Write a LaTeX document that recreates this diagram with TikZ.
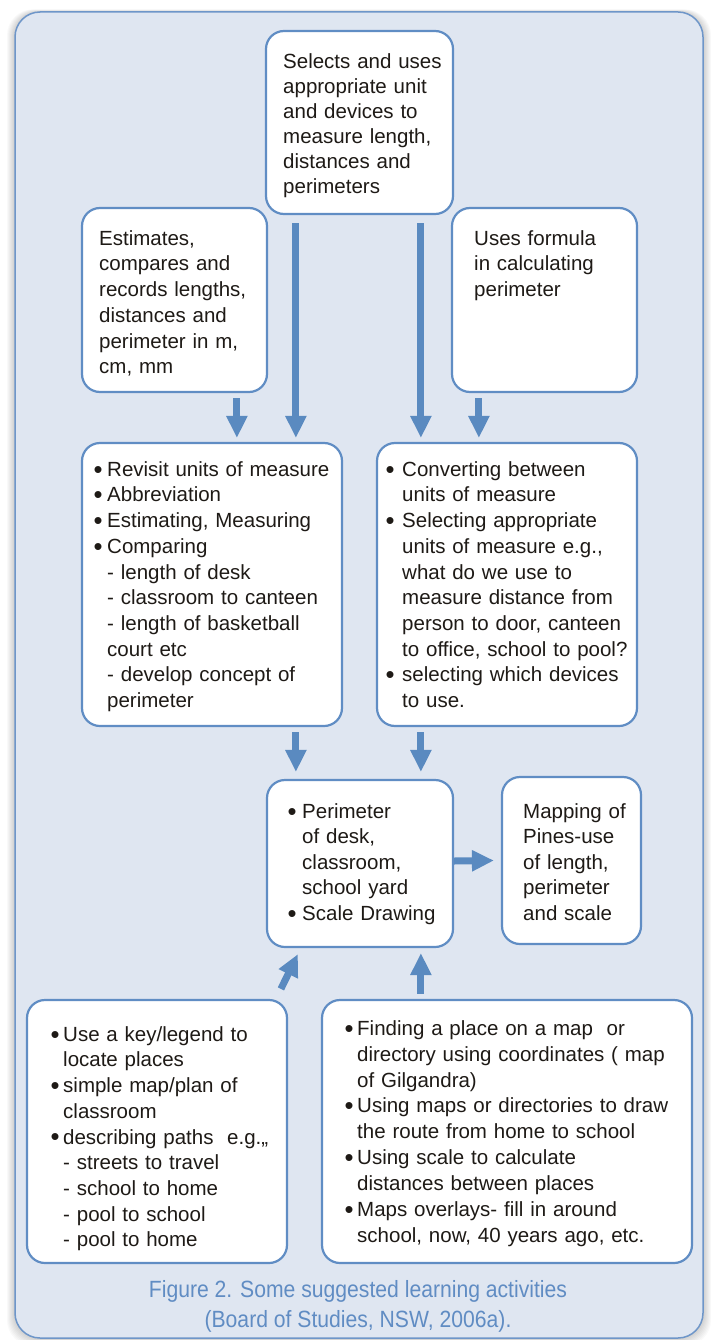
\documentclass[tikz,border=0pt]{standalone}
\usepackage{graphicx}
\usepackage{fontspec}
\setmainfont{Liberation Sans}
\newfontfamily\capfont[FakeStretch=0.9]{Liberation Sans}
\usetikzlibrary{arrows.meta}
\definecolor{panelfill}{RGB}{223,230,241}
\definecolor{panelline}{RGB}{110,150,201}
\definecolor{boxline}{RGB}{96,141,196}
\definecolor{arrowblue}{RGB}{90,138,192}
\definecolor{captionblue}{RGB}{96,140,195}
\definecolor{inktext}{RGB}{30,26,22}
\newcommand\itm[1]{\makebox[#1][l]{\hspace*{-1.5pt}\raisebox{-1.8pt}{\scalebox{1.25}{•}}}}
\newcommand\fs{\rule{0pt}{16pt}}
\tikzset{
  boxnode/.style={draw=boxline, line width=2.2pt, fill=white, rounded corners=18pt, inner sep=0pt},
  txt/.style={anchor=north west, inner sep=0pt, text width=#1, align=left, text=inktext,
    font=\fontsize{20.5}{25.7}\selectfont},
  txt/.default=330pt,
  arr/.style={draw=arrowblue, line width=7pt,
    -{Triangle[width=20pt,length=22pt]}},
}
\begin{document}
\begin{tikzpicture}[x=1pt,y=-1pt]
\useasboundingbox (0,0) rectangle (710,1340);
\fill[white] (0,0) rectangle (710,1340);
% shadow of panel
\foreach \i in {1,...,8}{
  \fill[black,opacity=0.025,rounded corners=26pt] ({15-\i},{12-\i/3}) rectangle ({703+\i},{1338+\i});
}
\draw[fill=panelfill, draw=panelline, line width=1.5pt, rounded corners=25pt] (15,12) rectangle (703,1338);

% boxes
\node[boxnode, minimum width=187pt, minimum height=183pt] (top) at (359.5,122.5) {};
\node[boxnode, minimum width=185pt, minimum height=184pt] (est) at (174.5,300) {};
\node[boxnode, minimum width=185pt, minimum height=184pt] (uses) at (544.5,300) {};
\node[boxnode, minimum width=260pt, minimum height=283pt] (lb) at (212,584.5) {};
\node[boxnode, minimum width=260pt, minimum height=283pt] (rb) at (507,584.5) {};
\node[boxnode, minimum width=186pt, minimum height=167pt] (per) at (360,863.5) {};
\node[boxnode, minimum width=139pt, minimum height=167pt] (map) at (571.5,860.5) {};
\node[boxnode, minimum width=260pt, minimum height=263pt] (bl) at (157,1131.5) {};
\node[boxnode, minimum width=370pt, minimum height=263pt] (br) at (507,1131.5) {};

% texts
\node[txt, font=\fontsize{20.5}{25}\selectfont] (ttop) at (283,52) {\fs Selects and uses\\appropriate unit\\and devices to\\measure length,\\distances and\\perimeters};
\node[txt] (test) at (99,229) {\fs Estimates,\\compares and\\records lengths,\\distances and\\perimeter in m,\\cm, mm};
\node[txt] (tuses) at (474,229) {\fs Uses formula\\in calculating\\perimeter};
\node[txt] (tlb) at (95,460) {\fs\itm{12pt}Revisit units of measure\\
\itm{12pt}Abbreviation\\
\itm{12pt}Estimating, Measuring\\
\itm{12pt}Comparing\\
\hspace*{12pt}- length of desk\\
\hspace*{12pt}- classroom to canteen\\
\hspace*{12pt}- length of basketball\\
\hspace*{12pt}court etc\\
\hspace*{12pt}- develop concept of\\
\hspace*{12pt}perimeter};
\node[txt] (trb) at (387,460) {\fs\itm{15pt}Converting between\\
\hspace*{15pt}units of measure\\
\itm{15pt}Selecting appropriate\\
\hspace*{15pt}units of measure e.g.,\\
\hspace*{15pt}what do we use to\\
\hspace*{15pt}measure distance from\\
\hspace*{15pt}person to door, canteen\\
\hspace*{15pt}to office, school to pool?\\
\itm{15pt}selecting which devices\\
\hspace*{15pt}to use.};
\node[txt, font=\fontsize{20.5}{25.5}\selectfont] (tper) at (289,802) {\fs\itm{13pt}Perimeter\\
\hspace*{13pt}of desk,\\
\hspace*{13pt}classroom,\\
\hspace*{13pt}school yard\\
\itm{13pt}Scale Drawing};
\node[txt, font=\fontsize{20.5}{25.5}\selectfont] (tmap) at (523,802) {\fs Mapping of\\Pines-use\\of length,\\perimeter\\and scale};
\node[txt] (tbl) at (52,1025) {\fs\itm{11pt}Use a key/legend to\\
\hspace*{11pt}locate places\\
\itm{11pt}simple map/plan of\\
\hspace*{11pt}classroom\\
\itm{11pt}describing paths\ \ e.g.,,\\
\hspace*{11pt}- streets to travel\\
\hspace*{11pt}- school to home\\
\hspace*{11pt}- pool to school\\
\hspace*{11pt}- pool to home};
\node[txt, font=\fontsize{20.5}{25.9}\selectfont] (tbr) at (346,1019) {\fs\itm{11pt}Finding a place on a map\ \ or\\
\hspace*{11pt}directory using coordinates ( map\\
\hspace*{11pt}of Gilgandra)\\
\itm{11pt}Using maps or directories to draw\\
\hspace*{11pt}the route from home to school\\
\itm{11pt}Using scale to calculate\\
\hspace*{11pt}distances between places\\
\itm{11pt}Maps overlays- fill in around\\
\hspace*{11pt}school, now, 40 years ago, etc.};

% caption
\node[anchor=north, inner sep=0pt, align=center, text=captionblue,
  font=\capfont\fontsize{23.5}{30}\selectfont] (cap) at (358,1279.5)
  {\rule{0pt}{17.5pt}Figure 2. Some suggested learning activities\\(Board of Studies, NSW, 2006a).};

% arrows
\draw[arr] ([xshift=31pt,yshift=-8pt]top.south west) -- ([xshift=215pt,yshift=4pt]lb.north west);
\draw[arr] ([xshift=156pt,yshift=-8pt]top.south west) -- ([xshift=45pt,yshift=4pt]rb.north west);
\draw[arr] ([xshift=156pt,yshift=-5pt]est.south west) -- ([xshift=156pt,yshift=4pt]lb.north west);
\draw[arr] ([xshift=28pt,yshift=-5pt]uses.south west) -- ([xshift=103pt,yshift=4pt]rb.north west);
\draw[arr] ([xshift=215pt,yshift=-5pt]lb.south west) -- ([xshift=30pt,yshift=7pt]per.north west);
\draw[arr] ([xshift=45pt,yshift=-5pt]rb.south west) -- ([xshift=155pt,yshift=7pt]per.north west);
\draw[arr] ([yshift=2.5pt]per.east) -- ([xshift=-7pt]map.west);
\draw[arr] ([xshift=100pt,yshift=5pt]br.north west) -- ([xshift=155pt,yshift=-5pt]per.south west);
\draw[arr] ([xshift=255pt,yshift=10pt]bl.north west) -- ([xshift=32pt,yshift=-6pt]per.south west);
\end{tikzpicture}
\end{document}
